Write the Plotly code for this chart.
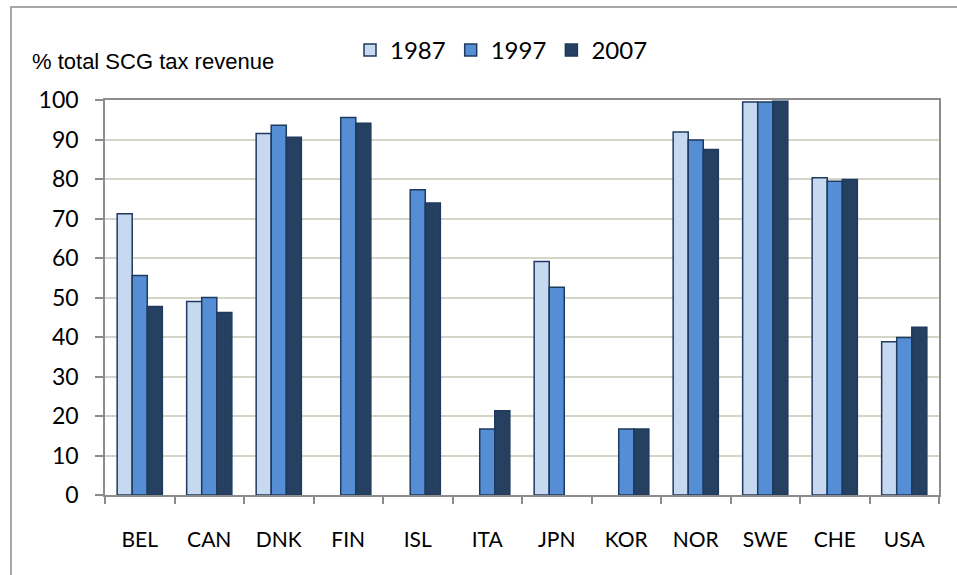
import plotly.graph_objects as go

countries = ["BEL", "CAN", "DNK", "FIN", "ISL", "ITA", "JPN", "KOR", "NOR", "SWE", "CHE", "USA"]
y1987 = [71.2, 49.0, 91.5, None, None, None, 59.1, None, 91.9, 99.5, 80.3, 38.8]
y1997 = [55.6, 50.0, 93.6, 95.6, 77.3, 16.7, 52.6, 16.7, 89.9, 99.5, 79.4, 39.9]
y2007 = [47.7, 46.2, 90.6, 94.1, 73.9, 21.3, None, 16.7, 87.5, 99.7, 79.9, 42.5]
years = ["1987", "1997", "2007"]
yticks = [0, 10, 20, 30, 40, 50, 60, 70, 80, 90, 100]

colors = ["#C6D9F1", "#558ED5", "#254061"]
outline = "#1F3A5F"
FONT = "Lato, Carlito, 'Open Sans', sans-serif"

W, H = 957, 575
L, R, T, B = 105, 18, 100, 80

fig = go.Figure()
for name, vals, c in zip(years, [y1987, y1997, y2007], colors):
    fig.add_trace(go.Bar(
        x=countries, y=vals, name=name,
        marker=dict(color=c, line=dict(color=outline, width=1.5)),
    ))

pw = W - L - R
ph = H - T - B
def px2x(p):
    return (p - L) / pw
def py2y(p):
    return (H - B - p) / ph

fig.update_layout(
    width=W, height=H,
    margin=dict(l=L, r=R, t=T, b=B),
    paper_bgcolor="white", plot_bgcolor="white",
    barmode="group", bargap=0.35, bargroupgap=0,
    font=dict(family=FONT, size=20, color="black"),
    showlegend=True,
    legend=dict(orientation="h", x=px2x(350), y=py2y(28), xanchor="left", yanchor="top",
                font=dict(size=24), itemwidth=30, tracegroupgap=0,
                bgcolor="rgba(0,0,0,0)"),
    xaxis=dict(
        showline=True, linecolor="#8C8C8C", linewidth=1.5, mirror=True,
        ticks="outside", tickson="boundaries", ticklen=7, tickcolor="#8C8C8C", tickwidth=1.5,
        tickfont=dict(size=21), ticklabelstandoff=25,
        showgrid=False,
    ),
    yaxis=dict(
        range=[0, 100], tickvals=yticks, ticktext=[str(v) for v in yticks],
        showline=True, linecolor="#8C8C8C", linewidth=1.5, mirror=True,
        ticks="outside", ticklen=8, tickcolor="#8C8C8C", tickwidth=1.5,
        showgrid=True, gridcolor="#D3D6C6", gridwidth=1.5,
        tickfont=dict(size=23), ticklabelstandoff=12,
        zeroline=False,
    ),
    annotations=[dict(
        text="% total SCG tax revenue", xref="paper", yref="paper",
        x=px2x(30), y=py2y(62), xanchor="left", yanchor="middle", showarrow=False,
        font=dict(family="'Liberation Sans Narrow', 'Arial Narrow', sans-serif", size=22, color="black"),
    )],
    shapes=[dict(
        type="rect", xref="paper", yref="paper",
        x0=px2x(11), x1=px2x(1000), y0=py2y(640), y1=py2y(7),
        line=dict(color="#8C8C8C", width=1.5), fillcolor="rgba(0,0,0,0)", layer="below",
    )],
)

fig.write_html("out.html", config={"displayModeBar": False},
               post_script="document.body.style.margin='0px';document.body.style.overflow='hidden';")
